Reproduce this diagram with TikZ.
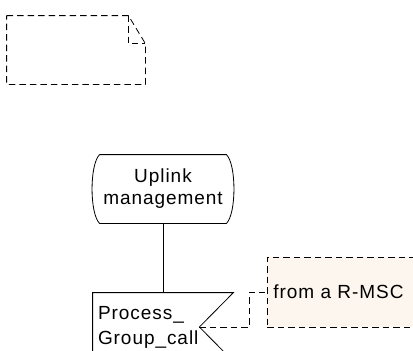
\documentclass[tikz,border=0pt]{standalone}
\usepackage{fontspec}
\setmainfont{Liberation Sans}[LetterSpace=5]
\usepackage{xcolor}
\usepackage{tikz}
\usetikzlibrary{positioning}
\definecolor{notefill}{HTML}{FDF6EE}

\begin{document}
\begin{tikzpicture}[x=1pt,y=-1pt,line width=0.8pt,
    every node/.style={font=\fontsize{19}{22}\selectfont},
    dashbox/.style={dash pattern=on 6.5pt off 4pt}]
  \useasboundingbox (0,0) rectangle (413,351);
  \clip (0,0) rectangle (413,351);

  % text symbol, folded corner
  \node[minimum width=138pt,minimum height=68pt,inner sep=0pt] (note) at (76,50) {};
  \draw[dashbox] (note.north west) -- ([xshift=-17pt]note.north east)
      -- ([yshift=-28pt]note.north east) -- (note.south east)
      -- (note.south west) -- cycle;
  \draw[dashbox] ([xshift=-17pt]note.north east) |- ([yshift=-28pt]note.north east);

  % procedure start
  \node[minimum width=122pt,minimum height=68pt,align=center] (uplink) at (163,189) {Uplink\\management};
  \draw (uplink.north west) -- (uplink.north east)
      .. controls +(10,10) and +(10,-10) .. (uplink.south east)
      -- (uplink.south west)
      .. controls +(-10,-10) and +(-10,10) .. (uplink.north west);

  % input signal
  \node[minimum width=140pt,minimum height=68pt,text width=130pt,inner sep=5pt,align=left,
        font=\fontsize{19}{25}\selectfont] (proc) at (163,327) {Process\_\\Group\_call};
  \draw (proc.north west) -- (proc.north east) -- ([xshift=-34pt]proc.east) coordinate (tip)
      -- (proc.south east) -- (proc.south west) -- cycle;

  \draw (uplink.south) -- (proc.north);

  % comment
  \node[draw,dashbox,fill=notefill,minimum height=70pt,text width=190pt,inner sep=6pt,
        align=left,anchor=west] (rmsc) at (267,292) {from a R-MSC};
  \draw[dashbox] (tip) -- ++(50,0) |- (rmsc.west);
\end{tikzpicture}
\end{document}
